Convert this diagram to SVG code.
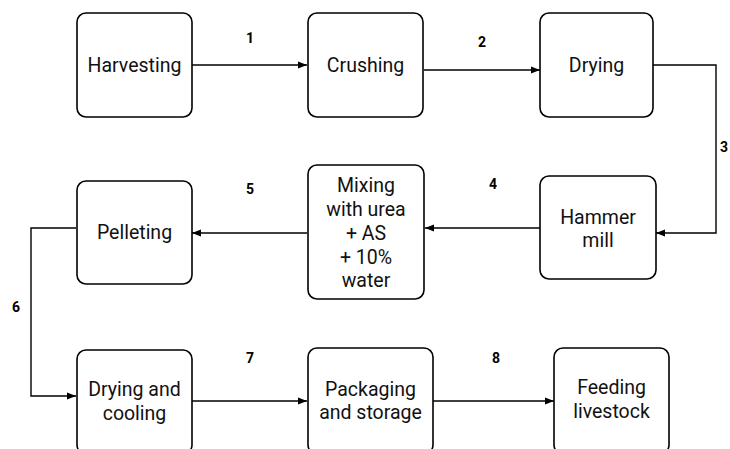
<svg xmlns="http://www.w3.org/2000/svg" width="730" height="449" viewBox="0 0 730 449">
<style>
.box{fill:#fff;stroke:#000;stroke-width:1.6}
.t{font-family:Roboto,"Liberation Sans",sans-serif;font-size:19.5px;text-anchor:middle;fill:#111}
.lbl{font-family:Roboto,"Liberation Sans",sans-serif;font-size:14px;font-weight:bold;text-anchor:middle;fill:#000}
.c{fill:none;stroke:#000;stroke-width:1.4}
</style>
<defs>
<marker id="ah" viewBox="0 0 10 10" refX="10" refY="5" markerWidth="9" markerHeight="9" markerUnits="userSpaceOnUse" orient="auto">
<path d="M0,1 L10,5 L0,9 Z" fill="#000"/>
</marker>
</defs>
<rect width="730" height="449" fill="#fff"/>
<g id="connectors">
<path class="c" d="M192,65 H307" marker-end="url(#ah)"/>
<path class="c" d="M424,70 H540" marker-end="url(#ah)"/>
<path class="c" d="M653,65 H716 V233 H656" marker-end="url(#ah)"/>
<path class="c" d="M540,228 H425" marker-end="url(#ah)"/>
<path class="c" d="M307,233 H192" marker-end="url(#ah)"/>
<path class="c" d="M76,228 H31 V396 H76" marker-end="url(#ah)"/>
<path class="c" d="M192,401 H307" marker-end="url(#ah)"/>
<path class="c" d="M433,401 H554" marker-end="url(#ah)"/>
<text class="lbl" x="250" y="43">1</text>
<text class="lbl" x="482" y="47">2</text>
<text class="lbl" x="724" y="152">3</text>
<text class="lbl" x="493" y="189">4</text>
<text class="lbl" x="250" y="194">5</text>
<text class="lbl" x="16" y="312">6</text>
<text class="lbl" x="250" y="363">7</text>
<text class="lbl" x="496" y="363">8</text>
</g>
<g id="harvesting"><rect class="box" x="77" y="13" width="115" height="104" rx="9"/><text class="t" x="134.5" y="72">Harvesting</text></g>
<g id="crushing"><rect class="box" x="308" y="13" width="115" height="104" rx="9"/><text class="t" x="365.5" y="72">Crushing</text></g>
<g id="drying"><rect class="box" x="540" y="13" width="113" height="104" rx="9"/><text class="t" x="596.5" y="72">Drying</text></g>
<g id="hammer-mill"><rect class="box" x="540" y="176" width="116" height="103" rx="9"/><text class="t" x="598" y="224">Hammer</text><text class="t" x="598" y="247">mill</text></g>
<g id="mixing"><rect class="box" x="308" y="165" width="116" height="134" rx="9"/><text class="t" x="366" y="192">Mixing</text><text class="t" x="366" y="216">with urea</text><text class="t" x="366" y="240">+ AS</text><text class="t" x="366" y="263.5">+ 10%</text><text class="t" x="366" y="286.5">water</text></g>
<g id="pelleting"><rect class="box" x="77" y="181" width="115" height="103" rx="9"/><text class="t" x="134.5" y="239">Pelleting</text></g>
<g id="drying-cooling"><rect class="box" x="77" y="350" width="115" height="104" rx="9"/><text class="t" x="134.5" y="396">Drying and</text><text class="t" x="134.5" y="420">cooling</text></g>
<g id="packaging"><rect class="box" x="308" y="348" width="125" height="106" rx="9"/><text class="t" x="370.5" y="395.5">Packaging</text><text class="t" x="370.5" y="419">and storage</text></g>
<g id="feeding"><rect class="box" x="554" y="348" width="115" height="106" rx="9"/><text class="t" x="611.5" y="394">Feeding</text><text class="t" x="611.5" y="418">livestock</text></g>
</svg>
